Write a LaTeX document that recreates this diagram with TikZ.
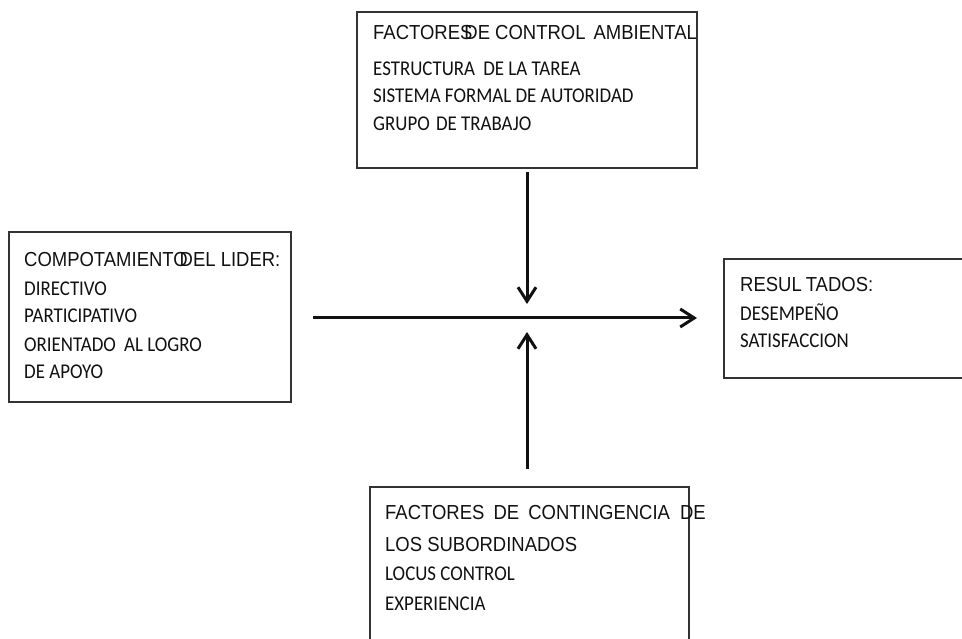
\documentclass[tikz,border=0pt]{standalone}
\usepackage{fontspec}
\usetikzlibrary{arrows.meta}
\newfontfamily\headfont[FakeStretch=0.91]{Liberation Sans}
\newfontfamily\itemfont[FakeStretch=0.9]{Carlito}
\definecolor{edge}{HTML}{333333}
\definecolor{ink}{HTML}{111111}
\tikzset{
  box/.style={draw=edge, line width=1.5pt, rectangle, inner sep=0pt, outer sep=0pt},
  head/.style={anchor=base west, inner sep=0pt, text=ink, font=\headfont\fontsize{20.3}{22}\selectfont},
  item/.style={anchor=base west, inner sep=0pt, text=ink, font=\itemfont\fontsize{21}{23}\selectfont},
  arr/.style={draw=ink, line width=3pt, -{Straight Barb[length=14pt,width=18pt]}},
}
\begin{document}
\begin{tikzpicture}[x=1pt, y=-1pt]
\useasboundingbox (0,0) rectangle (962,639);
\clip (0,0) rectangle (962,639);

% boxes
\node[box, minimum width=340pt, minimum height=156pt] (amb) at (527,90) {};
\node[box, minimum width=282pt, minimum height=170pt] (lid) at (150,317) {};
\node[box, minimum width=256pt, minimum height=119pt] (res) at (852,318.5) {};
\node[box, minimum width=319pt, minimum height=173pt] (sub) at (529.5,573.5) {};
\coordinate (hub) at (527,318);

% environmental factors
\node[head] (amb1) at (373,40) {FACTORES\kern-8pt DE CONTROL\hspace{3pt} AMBIENTAL};
\node[item] (amb2) at (373,76) {ESTRUCTURA\hspace{4pt} DE LA TAREA};
\node[item] (amb3) at (373,103) {SISTEMA FORMAL DE AUTORIDAD};
\node[item] (amb4) at (373,131) {GRUPO\hspace{2pt} DE TRABAJO};

% leader behaviour
\node[head] (lid1) at (24,267) {COMPOTAMIENTO\kern-8pt DEL LIDER:};
\node[item] (lid2) at (24,296) {DIRECTIVO};
\node[item] (lid3) at (24,323) {PARTICIPATIVO};
\node[item] (lid4) at (24,352) {ORIENTADO\hspace{4pt} AL LOGRO};
\node[item] (lid5) at (24,378) {DE APOYO};

% results
\node[head] (res1) at (740,292) {RESUL\kern4pt TADOS:};
\node[item] (res2) at (740,321) {DESEMPEÑO};
\node[item] (res3) at (740,348) {SATISFACCION};

% subordinate contingency factors
\node[head] (sub1) at (385,519) {FACTORES\hspace{4pt} DE\hspace{4pt} CONTINGENCIA\hspace{5pt} DE};
\node[head] (sub2) at (385,551) {LOS SUBORDINADOS};
\node[item] (sub3) at (385,580) {LOCUS CONTROL};
\node[item] (sub4) at (385,610) {EXPERIENCIA};

% connectors
\draw[arr, shorten <=22pt, shorten >=27pt] (lid.east |- hub) -- (res.west |- hub);
\draw[arr, shorten <=4pt, shorten >=14pt] (amb.south -| hub) -- (hub);
\draw[arr, shorten <=18pt, shorten >=14pt] (sub.north -| hub) -- (hub);
\end{tikzpicture}
\end{document}
